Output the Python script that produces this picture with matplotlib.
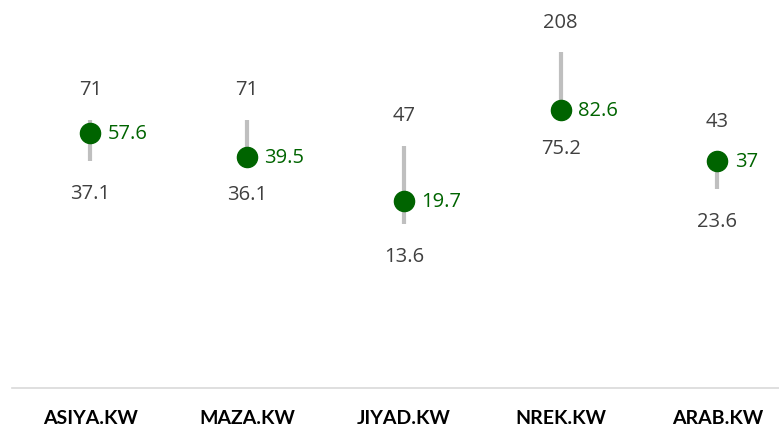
import matplotlib.pyplot as plt

# stock ranges: high / low / current price
tickers = ['ASIYA.KW', 'MAZA.KW', 'JIYAD.KW', 'NREK.KW', 'ARAB.KW']
high = [71, 71, 47, 208, 43]
low = [37.1, 36.1, 13.6, 75.2, 23.6]
current = [57.6, 39.5, 19.7, 82.6, 37]
high_txt = ['71', '71', '47', '208', '43']
low_txt = ['37.1', '36.1', '13.6', '75.2', '23.6']
current_txt = ['57.6', '39.5', '19.7', '82.6', '37']

grey_line = '#bfbfbf'
green = '#006400'
text_grey = '#404040'

fig = plt.figure(figsize=(7.79, 4.27), dpi=100)
ax = fig.add_axes([12 / 779, 1 - 389 / 427, 767 / 779, 388 / 427])

x = list(range(len(tickers)))
ax.vlines(x, low, high, color=grey_line, linewidth=3, zorder=1)
ax.plot(x, current, 'o', color=green, markersize=14.5, zorder=2)

lbl = dict(textcoords='offset points', va='center', fontsize=14.5, family='Open Sans')
for i in x:
    ax.annotate(high_txt[i], (i, high[i]), xytext=(0, 22), ha='center', color=text_grey, **lbl)
    ax.annotate(low_txt[i], (i, low[i]), xytext=(0, -23), ha='center', color=text_grey, **lbl)
    ax.annotate(current_txt[i], (i, current[i]), xytext=(12.5, 0), ha='left', color=green, **lbl)

ax.set_yscale('log')
ax.set_ylim(1, 478)
ax.set_xlim(-0.5, 4.393)
ax.set_yticks([])
ax.minorticks_off()
ax.set_xticks(x)
ax.set_xticklabels(tickers, fontsize=14, fontweight='bold', family='Lato', color='black')
ax.tick_params(axis='x', length=0, pad=15)

for side in ['top', 'left', 'right']:
    ax.spines[side].set_visible(False)
ax.spines['bottom'].set_color('#d9d9d9')
ax.spines['bottom'].set_linewidth(1.2)

fig.savefig('out.png', dpi=100)
